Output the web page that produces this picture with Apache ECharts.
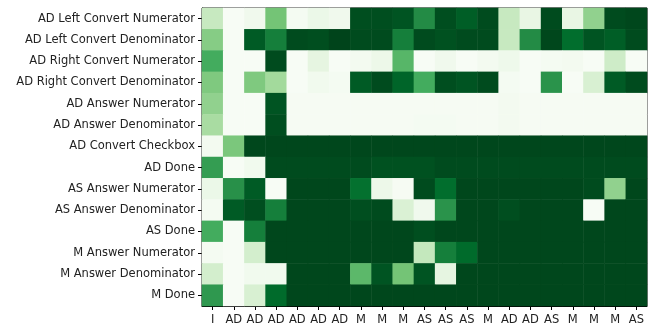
<!DOCTYPE html>
<html>
<head>
<meta charset="utf-8">
<script src="https://cdn.jsdelivr.net/npm/echarts@6/dist/echarts.min.js"></script>
<style>
  html, body { margin: 0; padding: 0; background: #fff; }
  #chart { width: 665px; height: 327px; }
</style>
</head>
<body>
<div id="chart"></div>
<script>
// Step labels along the bottom (one per column, repeats allowed)
const stepLabels = ['I', 'AD', 'AD', 'AD', 'AD', 'AD', 'AD', 'M', 'M', 'M', 'AS', 'AS', 'AS', 'M', 'AD', 'AD', 'AS', 'M', 'M', 'M', 'AS'];

// Interface fields, top to bottom
const fieldLabels = [
  'AD Left Convert Numerator',
  'AD Left Convert Denominator',
  'AD Right Convert Numerator',
  'AD Right Convert Denominator',
  'AD Answer Numerator',
  'AD Answer Denominator',
  'AD Convert Checkbox',
  'AD Done',
  'AS Answer Numerator',
  'AS Answer Denominator',
  'AS Done',
  'M Answer Numerator',
  'M Answer Denominator',
  'M Done'
];

// One array of cell values (0..1) per field, one value per step
const adLeftConvertNumerator   = [0.25, 0.00, 0.05, 0.50, 0.02, 0.08, 0.05, 0.97, 0.97, 0.95, 0.75, 0.97, 0.92, 0.98, 0.25, 0.10, 0.98, 0.10, 0.42, 0.98, 0.99];
const adLeftConvertDenominator = [0.45, 0.00, 0.93, 0.80, 0.98, 0.97, 1.00, 0.98, 0.98, 0.80, 0.98, 0.96, 0.98, 0.98, 0.25, 0.75, 0.99, 0.87, 0.95, 0.92, 0.98];
const adRightConvertNumerator  = [0.62, 0.00, 0.00, 0.98, 0.00, 0.12, 0.00, 0.03, 0.07, 0.57, 0.00, 0.05, 0.00, 0.03, 0.06, 0.00, 0.02, 0.03, 0.00, 0.22, 0.00];
const adRightConvertDenominator= [0.47, 0.00, 0.47, 0.37, 0.00, 0.04, 0.02, 0.93, 0.98, 0.90, 0.62, 0.97, 0.95, 0.98, 0.02, 0.00, 0.72, 0.00, 0.18, 0.93, 0.98];
const adAnswerNumerator        = [0.42, 0.00, 0.00, 0.95, 0.01, 0.01, 0.01, 0.01, 0.01, 0.01, 0.01, 0.01, 0.01, 0.01, 0.03, 0.01, 0.01, 0.01, 0.01, 0.01, 0.01];
const adAnswerDenominator      = [0.35, 0.00, 0.00, 0.97, 0.01, 0.01, 0.01, 0.01, 0.01, 0.01, 0.02, 0.02, 0.01, 0.01, 0.03, 0.01, 0.01, 0.01, 0.01, 0.01, 0.01];
const adConvertCheckbox        = [0.03, 0.48, 0.99, 0.99, 0.99, 0.99, 0.99, 0.99, 0.99, 0.99, 0.99, 0.99, 0.99, 0.99, 0.99, 0.99, 0.99, 0.99, 0.99, 0.99, 0.99];
const adDone                   = [0.68, 0.00, 0.04, 0.98, 0.98, 0.98, 0.98, 0.98, 0.96, 0.96, 0.96, 0.98, 0.98, 0.98, 0.98, 0.98, 0.98, 0.98, 0.98, 0.98, 0.98];
const asAnswerNumerator        = [0.08, 0.73, 0.93, 0.00, 0.99, 0.99, 0.99, 0.86, 0.07, 0.01, 0.98, 0.87, 0.99, 0.99, 0.99, 0.99, 0.99, 0.99, 0.98, 0.42, 0.99];
const asAnswerDenominator      = [0.02, 0.93, 0.97, 0.80, 0.99, 0.99, 0.99, 0.97, 0.98, 0.17, 0.05, 0.72, 0.99, 0.99, 0.97, 0.99, 0.99, 0.99, 0.00, 0.99, 0.99];
const asDone                   = [0.62, 0.00, 0.80, 0.99, 0.99, 0.99, 0.99, 0.99, 0.99, 0.99, 0.97, 0.99, 0.99, 0.99, 0.99, 0.99, 0.99, 0.99, 0.99, 0.99, 0.99];
const mAnswerNumerator         = [0.02, 0.00, 0.20, 0.99, 0.99, 0.99, 0.99, 0.99, 0.99, 0.99, 0.26, 0.80, 0.88, 0.99, 0.99, 0.99, 0.99, 0.99, 0.99, 0.99, 0.99];
const mAnswerDenominator       = [0.20, 0.00, 0.04, 0.04, 0.99, 0.99, 0.99, 0.56, 0.95, 0.50, 0.95, 0.12, 0.99, 0.99, 0.99, 0.99, 0.99, 0.99, 0.99, 0.99, 0.99];
const mDone                    = [0.70, 0.00, 0.18, 0.88, 0.99, 0.99, 0.99, 0.99, 0.99, 0.99, 0.99, 0.99, 0.99, 0.99, 0.99, 0.99, 0.99, 0.99, 0.99, 0.99, 0.99];

const rows = [
  adLeftConvertNumerator, adLeftConvertDenominator,
  adRightConvertNumerator, adRightConvertDenominator,
  adAnswerNumerator, adAnswerDenominator,
  adConvertCheckbox, adDone,
  asAnswerNumerator, asAnswerDenominator, asDone,
  mAnswerNumerator, mAnswerDenominator, mDone
];

// Flatten into [column, row, value] triples for the heatmap
const cells = [];
rows.forEach((row, r) => row.forEach((v, c) => cells.push([c, r, v])));

// Sequential white-to-dark-green ramp
const greens = ['#f7fcf5', '#e5f5e0', '#c7e9c0', '#a1d99b', '#74c476', '#41ab5d', '#238b45', '#006d2c', '#00441b'];

const chart = echarts.init(document.getElementById('chart'), null, { renderer: 'canvas' });
const font = 'DejaVu Sans';

chart.setOption({
  animation: false,
  backgroundColor: '#ffffff',
  grid: {
    left: 202, right: 18, top: 8, bottom: 21,
    show: true, borderColor: '#000', borderWidth: 1, backgroundColor: 'transparent'
  },
  xAxis: {
    type: 'category',
    data: stepLabels,
    axisLine: { show: true, lineStyle: { color: '#000', width: 1 } },
    axisTick: { show: true, alignWithLabel: true, length: 4, lineStyle: { color: '#000' } },
    axisLabel: { color: '#222', fontFamily: font, fontSize: 11.5, margin: 8, interval: 0 },
    splitLine: { show: false }
  },
  yAxis: {
    type: 'category',
    data: fieldLabels,
    inverse: true,
    axisLine: { show: true, lineStyle: { color: '#000', width: 1 } },
    axisTick: { show: true, alignWithLabel: true, length: 4, lineStyle: { color: '#000' } },
    axisLabel: { color: '#222', fontFamily: font, fontSize: 11.5, margin: 7, interval: 0 },
    splitLine: { show: false }
  },
  visualMap: {
    show: false,
    type: 'continuous',
    min: 0, max: 1,
    dimension: 2,
    inRange: { color: greens }
  },
  series: [{
    type: 'heatmap',
    data: cells,
    itemStyle: { borderWidth: 0 },
    emphasis: { disabled: true }
  }]
});
</script>
</body>
</html>
